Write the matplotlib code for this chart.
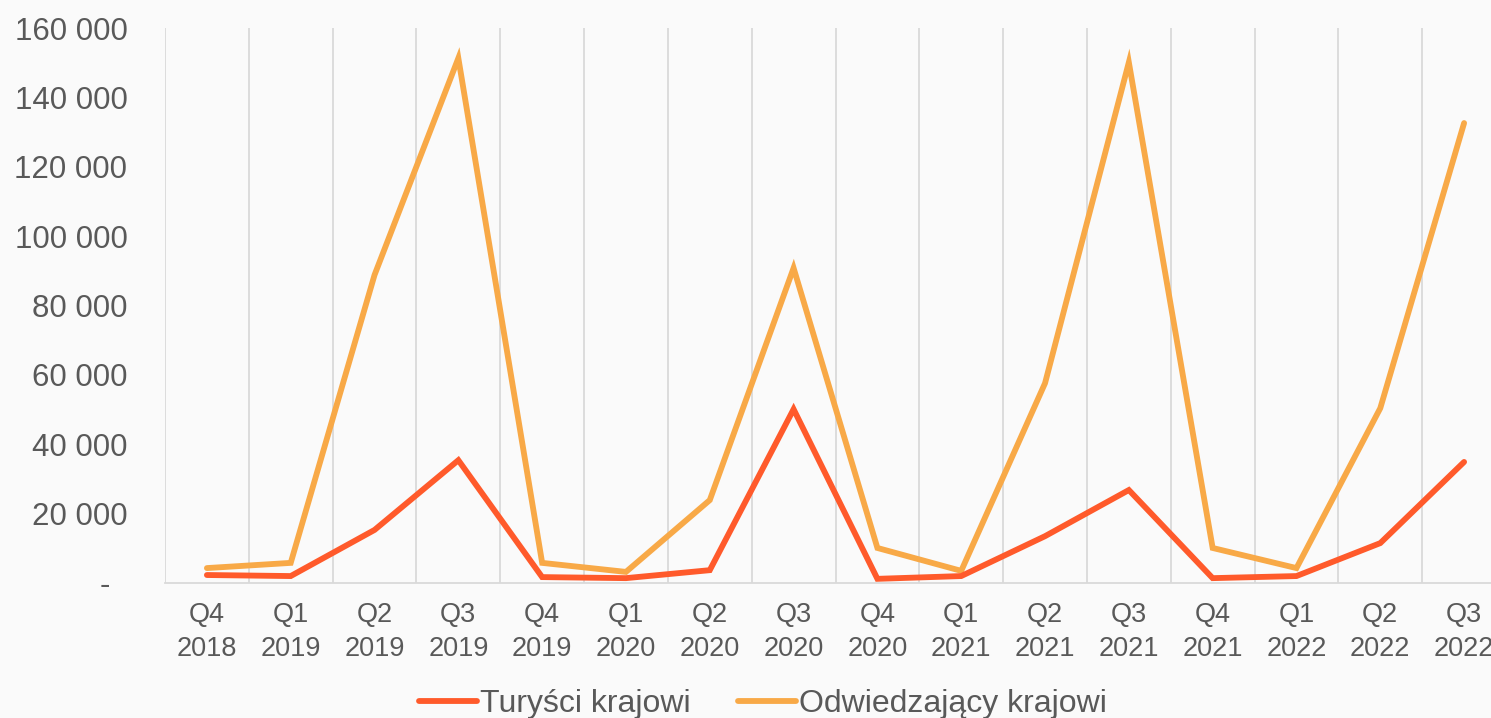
import numpy as np
import matplotlib.pyplot as plt
from matplotlib.ticker import FixedLocator

plt.rcParams['font.family'] = ['Liberation Sans', 'DejaVu Sans']

quarters = ['Q4', 'Q1', 'Q2', 'Q3', 'Q4', 'Q1', 'Q2', 'Q3',
            'Q4', 'Q1', 'Q2', 'Q3', 'Q4', 'Q1', 'Q2', 'Q3']
years = ['2018', '2019', '2019', '2019', '2019', '2020', '2020', '2020',
         '2020', '2021', '2021', '2021', '2021', '2022', '2022', '2022']
turysci = [2300, 2000, 15300, 35400, 1700, 1400, 3700, 50100,
           1200, 2000, 13500, 26800, 1400, 2000, 11500, 34900]
odwiedzajacy = [4300, 5800, 88800, 151300, 5800, 3200, 23900, 90800,
                10100, 3500, 57600, 150100, 10100, 4300, 50400, 132600]

txt = '#595959'
bg = '#fafafa'

fig = plt.figure(figsize=(14.91, 7.18), dpi=100, facecolor=bg)
ax = fig.add_axes([165/1491, 135/718, 1341/1491, 555/718], facecolor=bg)

x = np.arange(len(quarters))
ax.plot(x, turysci, color='#ff5a2b', lw=4.2, solid_capstyle='round',
        solid_joinstyle='miter', label='Turyści krajowi', zorder=3)
ax.plot(x, odwiedzajacy, color='#f8a947', lw=4.2, solid_capstyle='round',
        solid_joinstyle='miter', label='Odwiedzający krajowi', zorder=2)

ax.set_xlim(-0.5, len(quarters) - 0.5)
ax.set_ylim(0, 160000)

ax.set_xticks(x)
ax.set_xticklabels([q + '\n' + y for q, y in zip(quarters, years)],
                   fontsize=19.5, color=txt, linespacing=1.4)
ax.xaxis.set_minor_locator(FixedLocator(np.arange(-0.5, len(quarters), 1)))
ax.grid(which='minor', axis='x', color='#d9d9d9', lw=1.3)
ax.tick_params(axis='x', which='both', length=0, pad=14)

yt = np.arange(0, 160001, 20000)
ax.set_yticks(yt)
ax.set_yticklabels(['-  '] + ['{:,}'.format(v).replace(',', ' ') for v in yt[1:]],
                   fontsize=22.5, color=txt)
ax.tick_params(axis='y', length=0, pad=27)

for s in ['top', 'right', 'left']:
    ax.spines[s].set_visible(False)
ax.spines['bottom'].set_color('#d9d9d9')
ax.spines['bottom'].set_linewidth(1.3)

leg = fig.legend(loc='center', bbox_to_anchor=(763/1491, 1 - 704/718), ncol=2,
                 frameon=False, fontsize=23, handlelength=1.8, handletextpad=0.1,
                 columnspacing=1.5, borderaxespad=0)
for t in leg.get_texts():
    t.set_color(txt)

fig.savefig('out.png', dpi=100, facecolor=bg)
